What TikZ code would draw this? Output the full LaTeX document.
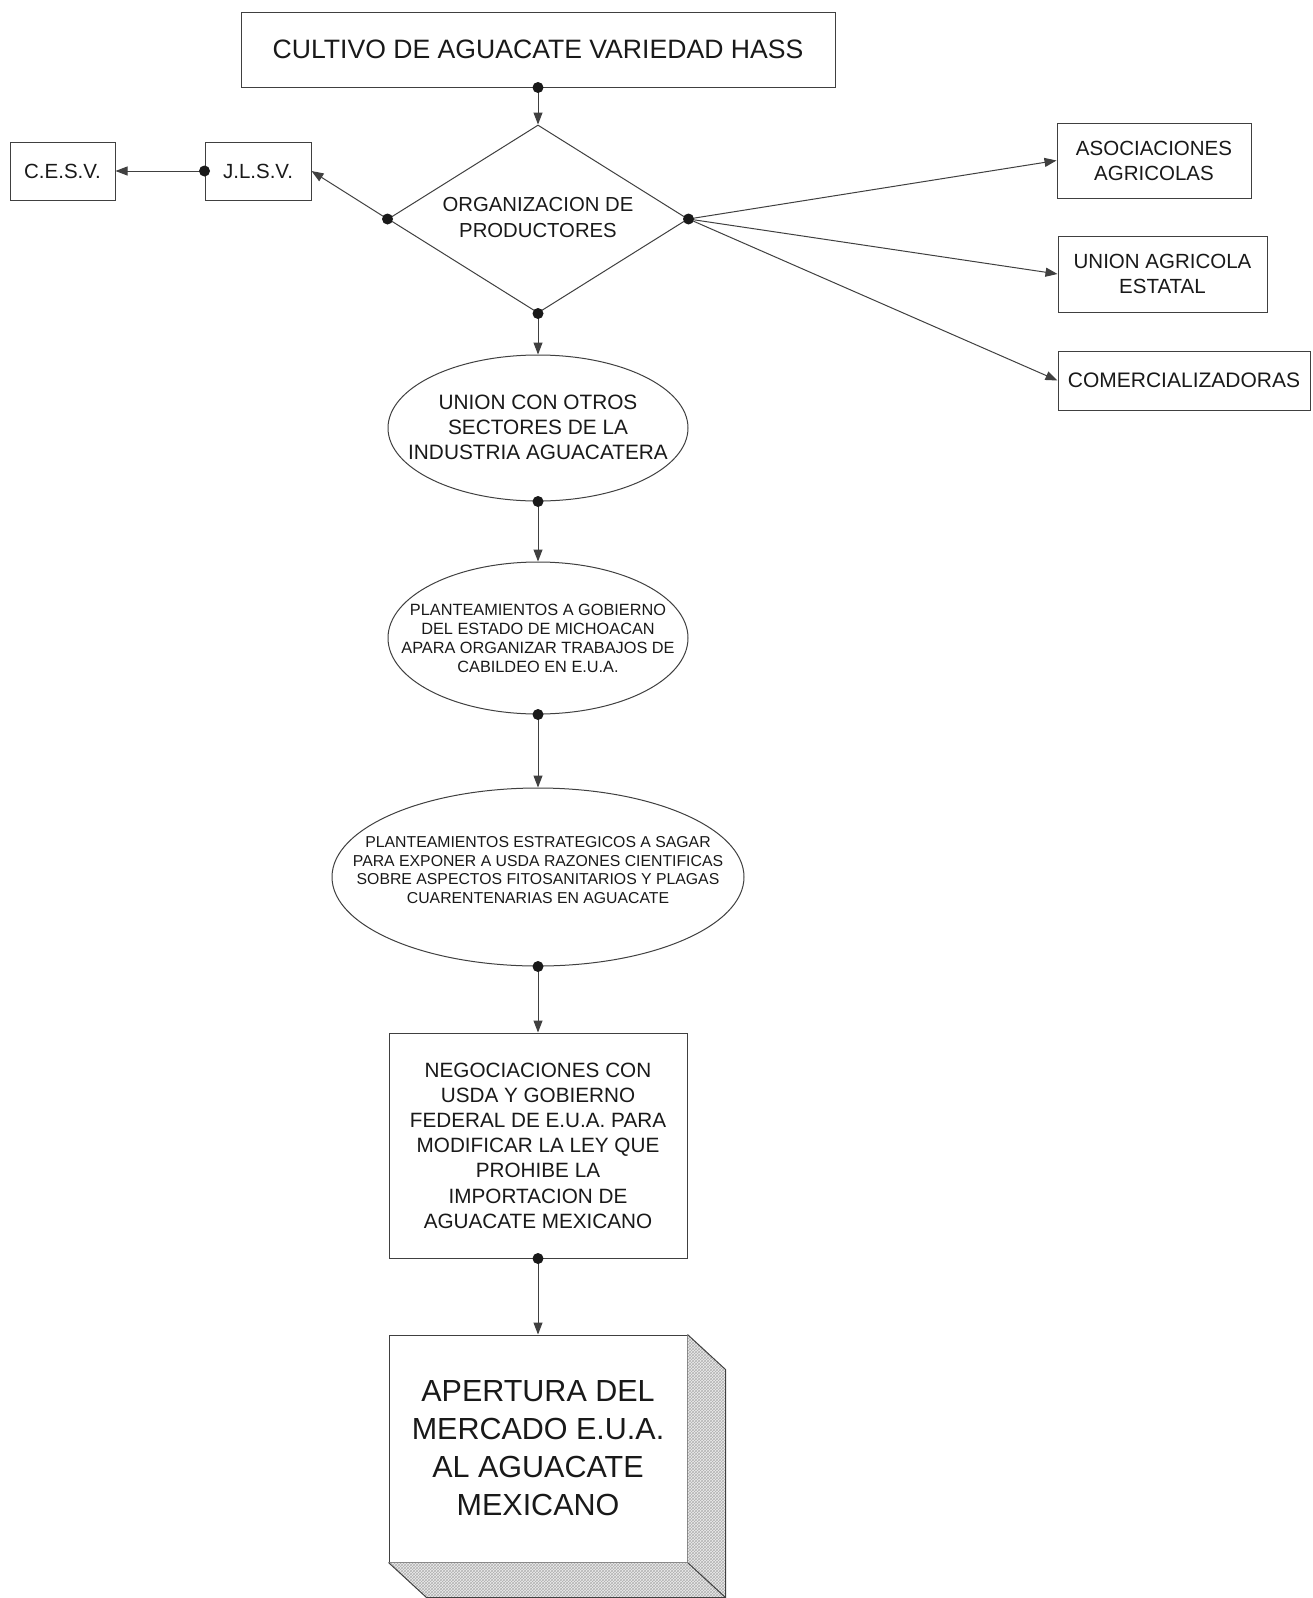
\documentclass[tikz,border=0pt]{standalone}
\usepackage{fontspec}
\setmainfont{Liberation Sans}
\usetikzlibrary{arrows.meta,shapes.geometric,patterns}
\definecolor{ink}{gray}{0.1}
\definecolor{wire}{gray}{0.25}
\begin{document}
\begin{tikzpicture}[x=1pt,y=-1pt,
  box/.style={draw=wire,line width=1pt,rectangle,inner sep=0pt,align=center,text=ink},
  shp/.style={draw=wire,line width=1pt,inner sep=0pt},
  conn/.style={draw=wire,line width=1pt,-{Triangle[length=12pt,width=9pt]}},
  lbl/.style={align=center,inner sep=0pt,text=ink},
  f20/.style={font=\fontsize{20.5}{25}\selectfont}]
\useasboundingbox[fill=white] (0,0) rectangle (1312,1598);

% main column
\node[box,minimum width=594,minimum height=75,font=\fontsize{26.6}{30}\selectfont] (top) at (538,49.5) {CULTIVO DE AGUACATE VARIEDAD HASS};

\node[shp,diamond,minimum width=300,minimum height=188] (dia) at (538,219) {};
\node[lbl,font=\fontsize{20.3}{26}\selectfont] (diat) at (538,218) {ORGANIZACION DE\\PRODUCTORES};

\node[shp,ellipse,minimum width=300,minimum height=146] (e1) at (538,428) {};
\node[lbl,font=\fontsize{20.8}{25}\selectfont] (e1t) at (538,427) {UNION CON OTROS\\SECTORES DE LA\\INDUSTRIA AGUACATERA};

\node[shp,ellipse,minimum width=300,minimum height=152] (e2) at (538,638) {};
\node[lbl,font=\fontsize{16.3}{19}\selectfont] (e2t) at (538,638) {PLANTEAMIENTOS A GOBIERNO\\DEL ESTADO DE MICHOACAN\\APARA ORGANIZAR TRABAJOS DE\\CABILDEO EN E.U.A.};

\node[shp,ellipse,minimum width=412,minimum height=178] (e3) at (538,877) {};
\node[lbl,font=\fontsize{15.8}{18.5}\selectfont] (e3t) at (538,870) {PLANTEAMIENTOS ESTRATEGICOS A SAGAR\\PARA EXPONER A USDA RAZONES CIENTIFICAS\\SOBRE ASPECTOS FITOSANITARIOS Y PLAGAS\\CUARENTENARIAS EN AGUACATE};

\node[box,minimum width=298,minimum height=225,font=\fontsize{20.7}{25.2}\selectfont] (neg) at (538,1145.5) {NEGOCIACIONES CON\\USDA Y GOBIERNO\\FEDERAL DE E.U.A. PARA\\MODIFICAR LA LEY QUE\\PROHIBE LA\\IMPORTACION DE\\AGUACATE MEXICANO};

\node[box,fill=white,minimum width=298,minimum height=227,font=\fontsize{30.5}{38}\selectfont] (fin) at (538,1448.5) {APERTURA DEL\\MERCADO E.U.A.\\AL AGUACATE\\MEXICANO};
\fill[gray!14] (fin.north east) -- ++(38,35) -- ([shift={(38,35)}]fin.south east) -- ([shift={(38,35)}]fin.south west) -- (fin.south west) -- (fin.south east) -- cycle;
\fill[pattern=crosshatch,pattern color=gray!60] (fin.north east) -- ++(38,35) -- ([shift={(38,35)}]fin.south east) -- ([shift={(38,35)}]fin.south west) -- (fin.south west) -- (fin.south east) -- cycle;
\draw[wire,line width=1pt,line join=miter] (fin.north east) -- ++(38,35) -- ([shift={(38,35)}]fin.south east) -- ([shift={(38,35)}]fin.south west) -- (fin.south west);
\draw[wire,line width=1pt] (fin.south east) -- ([shift={(38,35)}]fin.south east);

% side boxes
\node[box,f20,minimum width=106,minimum height=58] (jlsv) at (258,171) {J.L.S.V.};
\node[box,f20,minimum width=105,minimum height=58] (cesv) at (62.5,171) {C.E.S.V.};
\node[box,f20,minimum width=194,minimum height=75] (asoc) at (1154,160.5) {ASOCIACIONES\\AGRICOLAS};
\node[box,f20,minimum width=209,minimum height=76] (union) at (1162.5,274) {UNION AGRICOLA\\ESTATAL};
\node[box,font=\fontsize{21}{25}\selectfont,minimum width=252,minimum height=59] (comer) at (1184,380.5) {COMERCIALIZADORAS};

% connectors
\draw[conn] (top.south) -- (dia.north);
\draw[conn] (dia.south) -- (e1.north);
\draw[conn] (e1.south) -- (e2.north);
\draw[conn] (e2.south) -- (e3.north);
\draw[conn] (e3.south) -- (neg.north);
\draw[conn] (neg.south) -- (fin.north);
\draw[conn] (dia.west) -- (jlsv.east);
\draw[conn] (jlsv.west) -- (cesv.east);
\draw[conn] (dia.east) -- (asoc.west);
\draw[conn] (dia.east) -- (union.west);
\draw[conn] (dia.east) -- (comer.west);

% junction dots
\foreach \p in {top.south,dia.south,e1.south,e2.south,e3.south,neg.south,dia.west,dia.east,jlsv.west}
  \fill[ink] (\p) circle (5.5);
\end{tikzpicture}
\end{document}
